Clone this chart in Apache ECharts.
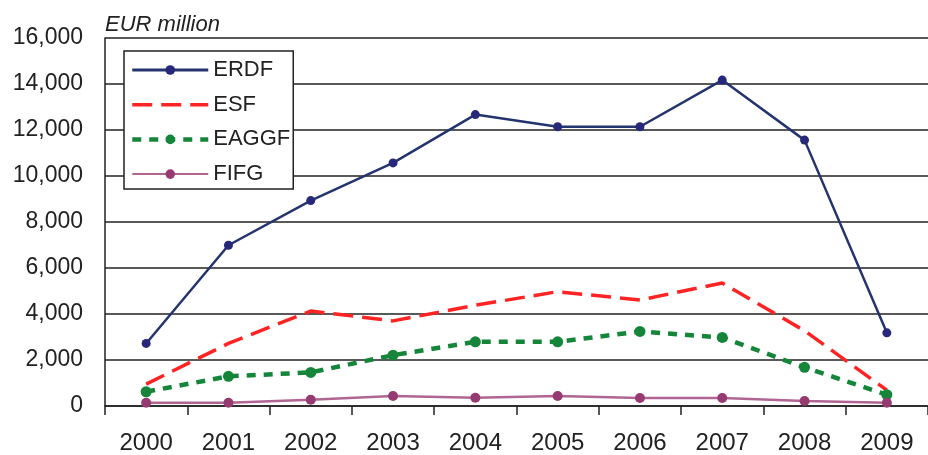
<!DOCTYPE html>
<html>
<head>
<meta charset="utf-8">
<script src="https://cdn.jsdelivr.net/npm/echarts@6/dist/echarts.min.js"></script>
<style>html,body{margin:0;padding:0;background:#fff;}#c{width:928px;height:455px;}</style>
</head>
<body>
<div id="c"></div>
<script>
const years = ['2000','2001','2002','2003','2004','2005','2006','2007','2008','2009'];
const erdf  = [2720, 6990, 8930, 10570, 12670, 12140, 12140, 14170, 11560, 3180];
const esf   = [950, 2720, 4130, 3700, 4380, 4970, 4610, 5350, 3270, 690];
const eaggf = [620, 1290, 1460, 2210, 2790, 2790, 3240, 2980, 1680, 490];
const fifg  = [143, 143, 273, 434, 360, 434, 347, 347, 217, 143];
const yTicks = [0, 2000, 4000, 6000, 8000, 10000, 12000, 14000, 16000];
const unitLabel = 'EUR million';

const chart = echarts.init(document.getElementById('c'), null, {renderer: 'canvas'});
const font = 'Liberation Sans, Arial, sans-serif';
chart.setOption({
  animation: false,
  backgroundColor: '#fff',
  textStyle: {fontFamily: font},
  grid: {left: 105, top: 38, right: -10, bottom: 48, containLabel: false},
  graphic: [{
    type: 'text', left: 105, top: 14,
    style: {text: unitLabel, font: 'italic 22px ' + font, fill: '#222'}
  }],
  legend: {
    orient: 'vertical', left: 124, top: 51,
    backgroundColor: '#fff', borderColor: '#222', borderWidth: 1.5,
    padding: [8, 3, 4, 6],
    itemWidth: 76, itemHeight: 12, itemGap: 12.7,
    textStyle: {fontSize: 22, color: '#222', fontFamily: font},
    data: [
      {name: 'ERDF', lineStyle: {width: 3}},
      {name: 'ESF', itemStyle: {opacity: 0}, lineStyle: {width: 3.5, type: [20, 9]}},
      {name: 'EAGGF', lineStyle: {width: 4.5, type: [9, 8]}},
      {name: 'FIFG', lineStyle: {width: 2}}
    ]
  },
  xAxis: {
    type: 'category', data: years, boundaryGap: true,
    axisLine: {lineStyle: {color: '#222', width: 1.5}},
    axisTick: {show: true, length: 9, lineStyle: {color: '#222', width: 1.5}},
    axisLabel: {fontSize: 24, color: '#222', margin: 25, fontFamily: font}
  },
  yAxis: {
    type: 'value', min: yTicks[0], max: yTicks[yTicks.length - 1], interval: 2000,
    axisLine: {show: true, lineStyle: {color: '#222', width: 1.5}},
    axisTick: {show: false},
    splitLine: {lineStyle: {color: '#222', width: 1.5}},
    axisLabel: {fontSize: 23, color: '#222', margin: 22, fontFamily: font,
      formatter: v => v.toLocaleString('en-US')}
  },
  series: [
    {name: 'ERDF', type: 'line', data: erdf, symbol: 'circle', symbolSize: 9,
      lineStyle: {color: '#24346E', width: 2.5}, itemStyle: {color: '#27287A'}},
    {name: 'ESF', type: 'line', data: esf, symbol: 'none',
      lineStyle: {color: '#FF2424', width: 3.5, type: [20, 9]}, itemStyle: {color: '#FF2424'}},
    {name: 'EAGGF', type: 'line', data: eaggf, symbol: 'circle', symbolSize: 11,
      lineStyle: {color: '#15853A', width: 4.5, type: [9, 8]}, itemStyle: {color: '#15853A'}},
    {name: 'FIFG', type: 'line', data: fifg, symbol: 'circle', symbolSize: 10,
      lineStyle: {color: '#B06592', width: 2.5}, itemStyle: {color: '#963A72'}}
  ]
});
</script>
</body>
</html>
